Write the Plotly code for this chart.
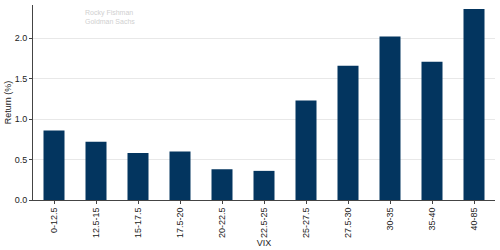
import plotly.graph_objects as go

categories = ["0-12.5", "12.5-15", "15-17.5", "17.5-20", "20-22.5", "22.5-25",
              "25-27.5", "27.5-30", "30-35", "35-40", "40-85"]
returns = [0.86, 0.72, 0.58, 0.60, 0.38, 0.36, 1.23, 1.66, 2.02, 1.71, 2.36]

fig = go.Figure(go.Bar(x=categories, y=returns, marker_color="#03355f",
                       marker_line_width=0))

fig.update_layout(
    width=500, height=250,
    margin=dict(l=33, r=5, t=5, b=50),
    plot_bgcolor="white", paper_bgcolor="white",
    bargap=0.5,
    font=dict(family="Liberation Sans, Arial, sans-serif", size=9, color="#222"),
    showlegend=False,
)
fig.update_xaxes(
    range=[-0.5, 10.5], tickangle=-90, showline=True, linecolor="#444",
    linewidth=1, ticks="outside", ticklen=3, tickcolor="#444",
    title=dict(text="VIX", standoff=0, font=dict(size=9)),
    tickfont=dict(size=9),
)
fig.update_yaxes(
    range=[0, 2.41], tickvals=[0, 0.5, 1.0, 1.5, 2.0],
    ticktext=["0.0", "0.5", "1.0", "1.5", "2.0"],
    showline=True, linecolor="#444", linewidth=1, ticks="outside", ticklen=3,
    tickcolor="#444", showgrid=True, gridcolor="#e8e8e8", gridwidth=1,
    zeroline=False,
    title=dict(text="Return (%)", standoff=1, font=dict(size=9)),
    tickfont=dict(size=9),
)
fig.add_annotation(text="Rocky Fishman<br>Goldman Sachs", xref="paper", yref="paper",
                   x=0.108, y=0.99, xanchor="left", yanchor="top", showarrow=False,
                   align="left", font=dict(size=7, color="#d0d0d0"))

fig.write_html("out.html")
